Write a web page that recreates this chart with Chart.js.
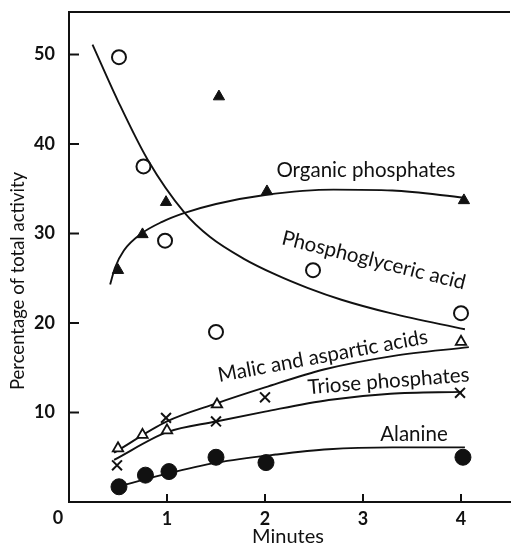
<!DOCTYPE html>
<html>
<head>
<meta charset="utf-8">
<script src="https://cdn.jsdelivr.net/npm/chart.js@4.4.1/dist/chart.umd.min.js"></script>
<style>
  html, body { margin: 0; padding: 0; background: #fff; }
</style>
</head>
<body>
<canvas id="my_chart" width="519" height="551"></canvas>
<script>
// measured points (minutes, % of total activity)
var pga_x = [0.51, 0.76, 0.98, 1.5, 2.49, 4.0]
var pga_y = [49.7, 37.5, 29.2, 19.0, 25.9, 21.1]
var org_x = [0.5, 0.75, 0.99, 1.53, 2.02, 4.03]
var org_y = [25.9, 29.9, 33.5, 45.3, 34.7, 33.7]
var malic_x = [0.5, 0.75, 1.0, 1.51, 4.0]
var malic_y = [6.0, 7.5, 8.0, 10.9, 17.9]
var triose_x = [0.49, 0.99, 1.5, 2.0, 3.99]
var triose_y = [4.1, 9.4, 9.0, 11.7, 12.2]
var ala_x = [0.51, 0.78, 1.02, 1.5, 2.01, 4.02]
var ala_y = [1.7, 3.0, 3.4, 5.0, 4.4, 5.0]

// fitted curves as drawn
var pga_curve_x = [0.24, 0.5, 0.8, 1.18, 1.44, 1.78, 2.11, 2.44, 2.78, 3.28, 4.04]
var pga_curve_y = [51.1, 44.8, 38.3, 32.3, 29.6, 27.2, 25.4, 23.9, 22.6, 21.1, 19.3]
var org_curve_x = [0.42, 0.47, 0.56, 0.74, 0.95, 1.18, 1.5, 2.0, 2.7, 3.3, 4.03]
var org_curve_y = [24.3, 26.2, 28.1, 30.0, 31.3, 32.3, 33.3, 34.3, 34.9, 34.8, 34.0]
var malic_curve_x = [0.46, 1.0, 1.5, 2.0, 2.6, 3.3, 4.08]
var malic_curve_y = [5.5, 9.0, 11.0, 12.8, 14.8, 16.3, 17.3]
var triose_curve_x = [0.46, 1.0, 1.5, 2.0, 2.65, 3.28, 4.01]
var triose_curve_y = [4.7, 7.8, 9.0, 10.1, 11.4, 12.1, 12.3]
var ala_curve_x = [0.46, 1.01, 1.51, 2.11, 2.65, 3.3, 4.04]
var ala_curve_y = [1.6, 3.2, 4.4, 5.3, 5.9, 6.1, 6.1]

// curve labels
var label_text = ['Organic phosphates', 'Phosphoglyceric acid', 'Malic and aspartic acids', 'Triose phosphates', 'Alanine']
var label_x = [3.03, 3.11, 2.59, 3.26, 3.52]
var label_y = [37.0, 27.0, 16.3, 13.5, 7.5]
var label_angle = [0, 14, -10.5, -4.5, 0]

var ink = '#111'
var font_family = 'Lato, "Open Sans", sans-serif'

function pts(xs, ys) {
  return xs.map((x, i) => ({x: x, y: ys[i]}))
}

function curve(xs, ys) {
  return {
    type: 'line',
    data: pts(xs, ys),
    borderColor: ink,
    borderWidth: 1.9,
    pointRadius: 0,
    cubicInterpolationMode: 'monotone',
    fill: false
  }
}

// inward ticks, top frame line, origin "0", axis titles and curve labels
const annotate = {
  id: 'annotate',
  afterDraw(chart) {
    const ctx = chart.ctx
    const xs = chart.scales.x
    const ys = chart.scales.y
    const area = chart.chartArea
    ctx.save()
    ctx.strokeStyle = ink
    ctx.lineWidth = 2
    ctx.beginPath()
    ctx.moveTo(area.left - 1, area.top)
    ctx.lineTo(area.right, area.top)
    ctx.stroke()

    ys.ticks.forEach(t => {
      if (t.value === 0) return
      const py = ys.getPixelForValue(t.value)
      ctx.beginPath()
      ctx.moveTo(area.left, py)
      ctx.lineTo(area.left + 10, py)
      ctx.stroke()
    })
    xs.ticks.forEach(t => {
      if (t.value === 0) return
      const px = xs.getPixelForValue(t.value)
      ctx.beginPath()
      ctx.moveTo(px, area.bottom)
      ctx.lineTo(px, area.bottom - 8)
      ctx.stroke()
    })

    ctx.fillStyle = ink
    ctx.textAlign = 'center'
    ctx.textBaseline = 'middle'
    ctx.font = 'bold 18px ' + font_family
    ctx.fillText('0', area.left - 11, area.bottom + 16)

    ctx.font = '20px ' + font_family
    ctx.fillText('Minutes', 288, 537)

    ctx.save()
    ctx.translate(18, 281)
    ctx.rotate(-Math.PI / 2)
    ctx.font = '18.5px ' + font_family
    ctx.fillText('Percentage of total activity', 0, 0)
    ctx.restore()

    ctx.font = '20.5px ' + font_family
    label_text.forEach((txt, i) => {
      ctx.save()
      ctx.translate(xs.getPixelForValue(label_x[i]), ys.getPixelForValue(label_y[i]))
      ctx.rotate(label_angle[i] * Math.PI / 180)
      ctx.fillText(txt, 0, 0)
      ctx.restore()
    })
    ctx.restore()
  }
}

const tick_font = {family: font_family, size: 18, weight: 'bold'}

ctx = document.getElementById('my_chart').getContext('2d')
my_chart = new Chart(ctx, {
  type: 'scatter',
  data: {
    datasets: [
      {
        label: 'Phosphoglyceric acid',
        data: pts(pga_x, pga_y),
        pointStyle: 'circle',
        pointRadius: 7,
        borderWidth: 2,
        borderColor: ink,
        backgroundColor: '#fff'
      },
      {
        label: 'Organic phosphates',
        data: pts(org_x, org_y),
        pointStyle: 'triangle',
        pointRadius: 6.5,
        borderWidth: 1,
        borderColor: ink,
        backgroundColor: ink
      },
      {
        label: 'Malic and aspartic acids',
        data: pts(malic_x, malic_y),
        pointStyle: 'triangle',
        pointRadius: 6,
        borderWidth: 1.8,
        borderColor: ink,
        backgroundColor: '#fff'
      },
      {
        label: 'Triose phosphates',
        data: pts(triose_x, triose_y),
        pointStyle: 'crossRot',
        pointRadius: 7,
        borderWidth: 2,
        borderColor: ink,
        backgroundColor: ink
      },
      {
        label: 'Alanine',
        data: pts(ala_x, ala_y),
        pointStyle: 'circle',
        pointRadius: 8,
        borderWidth: 1,
        borderColor: ink,
        backgroundColor: ink
      },
      curve(pga_curve_x, pga_curve_y),
      curve(org_curve_x, org_curve_y),
      curve(malic_curve_x, malic_curve_y),
      curve(triose_curve_x, triose_curve_y),
      curve(ala_curve_x, ala_curve_y)
    ]
  },
  options: {
    responsive: false,
    animation: false,
    layout: {padding: {top: 12, left: 0, right: 0, bottom: 0}},
    plugins: {
      legend: {display: false},
      tooltip: {enabled: false}
    },
    scales: {
      x: {
        type: 'linear',
        min: 0,
        max: 4.5,
        grid: {display: false, drawTicks: false},
        border: {display: true, color: ink, width: 2},
        ticks: {
          stepSize: 1,
          includeBounds: false,
          padding: 6,
          color: ink,
          font: tick_font,
          maxRotation: 0,
          callback: v => (v === 0 ? '' : v)
        },
        afterFit: s => { s.height = 49; s.paddingLeft = 0; s.paddingRight = 0 }
      },
      y: {
        type: 'linear',
        min: 0,
        max: 54.75,
        grid: {display: false, drawTicks: false},
        border: {display: true, color: ink, width: 2},
        ticks: {
          stepSize: 10,
          includeBounds: false,
          padding: 14,
          color: ink,
          font: tick_font,
          callback: v => (v === 0 ? '' : v)
        },
        afterFit: s => { s.width = 69; s.paddingTop = 0; s.paddingBottom = 0 }
      }
    }
  },
  plugins: [annotate]
})
</script>
</body>
</html>
